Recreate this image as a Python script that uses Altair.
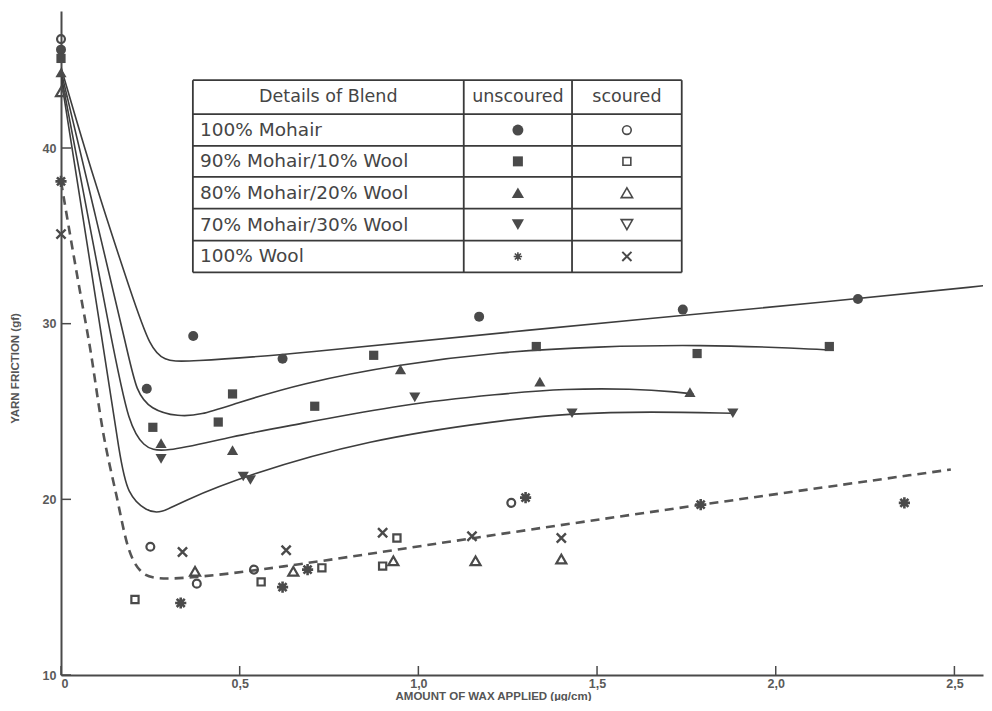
import altair as alt
import pandas as pd

# ---------------- data ----------------
x_ticks = [0, 0.5, 1.0, 1.5, 2.0, 2.5]
y_ticks = [10, 20, 30, 40]

# unscoured (filled) markers
mohair_u_x = [0.0, 0.24, 0.37, 0.62, 1.17, 1.74, 2.23, 2.6]
mohair_u_y = [45.6, 26.3, 29.3, 28.0, 30.4, 30.8, 31.4, 32.2]
blend90_u_x = [0.0, 0.257, 0.44, 0.48, 0.71, 0.875, 1.33, 1.78, 2.15]
blend90_u_y = [45.1, 24.1, 24.4, 26.0, 25.3, 28.2, 28.7, 28.3, 28.7]
blend80_u_x = [0.0, 0.28, 0.48, 0.95, 1.34, 1.76]
blend80_u_y = [44.3, 23.2, 22.8, 27.4, 26.7, 26.1]
blend70_u_x = [0.28, 0.51, 0.53, 0.99, 1.43, 1.88]
blend70_u_y = [22.3, 21.3, 21.1, 25.8, 24.9, 24.9]
wool_u_x = [0.0, 0.335, 0.62, 0.69, 1.30, 1.79, 2.36]
wool_u_y = [38.1, 14.1, 15.0, 16.0, 20.1, 19.7, 19.8]

# scoured (open) markers
mohair_s_x = [0.0, 0.25, 0.38, 0.54, 1.26]
mohair_s_y = [46.2, 17.3, 15.2, 16.0, 19.8]
blend90_s_x = [0.207, 0.56, 0.73, 0.90, 0.94]
blend90_s_y = [14.3, 15.3, 16.1, 16.2, 17.8]
blend80_s_x = [0.0, 0.375, 0.65, 0.93, 1.16, 1.40]
blend80_s_y = [43.2, 15.9, 15.9, 16.5, 16.5, 16.6]
blend70_s_x = []
blend70_s_y = []
wool_s_x = [0.0, 0.34, 0.63, 0.90, 1.15, 1.40]
wool_s_y = [35.1, 17.0, 17.1, 18.1, 17.9, 17.8]

# fitted curves
curve_mohair_x = [0.0, 0.09, 0.20, 0.25, 0.29, 0.34, 0.67, 1.23, 2.23, 2.6]
curve_mohair_y = [44.6, 38.3, 31.5, 28.6, 27.9, 27.8, 28.3, 29.5, 31.4, 32.2]
curve_90_x = [0.0, 0.098, 0.19, 0.21, 0.25, 0.33, 0.39, 0.48, 0.67, 0.95, 1.23, 1.5, 1.79, 2.07, 2.15]
curve_90_y = [44.4, 36.0, 28.1, 26.2, 25.1, 24.7, 24.8, 25.4, 26.6, 27.7, 28.4, 28.7, 28.8, 28.6, 28.5]
curve_80_x = [0.0, 0.15, 0.19, 0.23, 0.28, 0.48, 0.67, 0.95, 1.23, 1.41, 1.6, 1.73, 1.77]
curve_80_y = [44.2, 28.1, 24.3, 23.0, 22.6, 23.6, 24.3, 25.4, 26.0, 26.3, 26.3, 26.1, 26.0]
curve_70_x = [0.0, 0.123, 0.165, 0.185, 0.24, 0.28, 0.33, 0.52, 0.86, 1.23, 1.43, 1.65, 1.88]
curve_70_y = [44.0, 28.1, 22.4, 20.3, 19.3, 19.2, 19.8, 21.4, 23.4, 24.5, 24.9, 25.0, 24.9]
curve_wool_x = [0.0, 0.03, 0.062, 0.087, 0.118, 0.157, 0.185, 0.22, 0.27, 0.58, 1.15, 1.79, 2.49]
curve_wool_y = [38.1, 34.5, 30.8, 28.1, 23.4, 20.2, 17.1, 15.8, 15.3, 16.0, 17.8, 19.7, 21.7]

# legend table text
table_headers = ["Details of Blend", "unscoured", "scoured"]
blend_names = ["100% Mohair", "90% Mohair/10% Wool", "80% Mohair/20% Wool",
               "70% Mohair/30% Wool", "100% Wool"]

# ---------------- styling ----------------
INK = "#4a4a4a"
LINE = "#3d3d3d"
ASTERISK = "M0,-1L0,1M-1,0L1,0M-0.72,-0.72L0.72,0.72M-0.72,0.72L0.72,-0.72"
XSHAPE = "M-0.75,-0.75L0.75,0.75M-0.75,0.75L0.75,-0.75"

marker_shapes = ["circle", "square", "triangle-up", "triangle-down", ASTERISK,
                 "circle", "square", "triangle-up", "triangle-down", XSHAPE]
marker_filled = [True, True, True, True, False, False, False, False, False, False]
marker_sizes = [100, 85, 125, 125, 125, 62, 52, 100, 100, 150]
marker_widths = [1, 1, 1, 1, 2.6, 2.2, 2.2, 2.2, 2.2, 2.4]
legend_sizes = [120, 100, 150, 150, 70, 75, 62, 130, 130, 150]
legend_widths = [1, 1, 1, 1, 1.6, 1.6, 1.6, 1.6, 1.6, 2.0]

series_x = [mohair_u_x, blend90_u_x, blend80_u_x, blend70_u_x, wool_u_x,
            mohair_s_x, blend90_s_x, blend80_s_x, blend70_s_x, wool_s_x]
series_y = [mohair_u_y, blend90_u_y, blend80_u_y, blend70_u_y, wool_u_y,
            mohair_s_y, blend90_s_y, blend80_s_y, blend70_s_y, wool_s_y]

curve_rows = []
for key, xs, ys in [("mohair", curve_mohair_x, curve_mohair_y),
                    ("b90", curve_90_x, curve_90_y),
                    ("b80", curve_80_x, curve_80_y),
                    ("b70", curve_70_x, curve_70_y)]:
    for i, (x, y) in enumerate(zip(xs, ys)):
        curve_rows.append({"key": key, "i": i, "x": x, "y": y})
curves_df = pd.DataFrame(curve_rows)
wool_df = pd.DataFrame({"i": range(len(curve_wool_x)), "x": curve_wool_x, "y": curve_wool_y})

# table geometry (data coordinates)
T_LEFT, T_C1, T_C2, T_RIGHT = 0.369, 1.127, 1.43, 1.737
T_ROWS = [43.86, 41.93, 40.12, 38.36, 36.55, 34.73, 32.92]
col_centers = [(T_LEFT + T_C1) / 2, (T_C1 + T_C2) / 2, (T_C2 + T_RIGHT) / 2]
row_centers = [(T_ROWS[i] + T_ROWS[i + 1]) / 2 for i in range(len(T_ROWS) - 1)]

grid_rows = [{"x": T_LEFT, "x2": T_RIGHT, "y": yy, "y2": yy} for yy in T_ROWS]
grid_rows += [{"x": xx, "x2": xx, "y": T_ROWS[0], "y2": T_ROWS[-1]}
              for xx in [T_LEFT, T_C1, T_C2, T_RIGHT]]
grid_df = pd.DataFrame(grid_rows)

header_df = pd.DataFrame({"x": col_centers, "y": [row_centers[0]] * 3, "t": table_headers})
label_df = pd.DataFrame({"x": [T_LEFT + 0.02] * len(blend_names),
                         "y": row_centers[1:], "t": blend_names})

# ---------------- scales / axes ----------------
W, H = 922, 664
xs_ = alt.Scale(domain=[0, 2.58], nice=False, zero=False)
ys_ = alt.Scale(domain=[10, 47.8], nice=False, zero=False)
X_AX = alt.Axis(values=x_ticks, ticks=False, grid=False, domainColor=INK, domainWidth=2,
                labelFont="Liberation Sans", labelFontWeight="bold", labelFontSize=12.5,
                labelColor="#5a5a5a", labelPadding=2,
                labelExpr="datum.value == 0 ? '0' : replace(format(datum.value, '.1f'), '.', ',')",
                title="AMOUNT OF WAX APPLIED (µg/cm)", titleFont="Liberation Sans",
                titleFontSize=11.5, titleFontWeight="bold", titleColor="#555555",
                titleX=432, titleY=21, titleBaseline="middle")
Y_AX = alt.Axis(values=y_ticks, ticks=False, grid=False, domainColor=INK, domainWidth=2,
                labelFont="Liberation Sans", labelFontWeight="bold", labelFontSize=12.5,
                labelColor="#5a5a5a", labelPadding=5,
                title="YARN FRICTION (gf)", titleFont="Liberation Sans",
                titleFontSize=11.5, titleFontWeight="bold", titleColor="#555555",
                titleX=-46, titleY=357, titleAngle=-90, titleAlign="center",
                titleBaseline="middle")

X = lambda: alt.X("x:Q", scale=xs_, axis=X_AX)
Y = lambda: alt.Y("y:Q", scale=ys_, axis=Y_AX)

curves = alt.Chart(curves_df).mark_line(interpolate="basis", color=LINE, strokeWidth=1.6, clip=True).encode(
    x=X(), y=Y(), detail="key:N", order="i:Q")
wool_curve = alt.Chart(wool_df).mark_line(interpolate="basis", color="#555555", strokeWidth=2.6,
                                          strokeDash=[9, 6], clip=True).encode(
    x=X(), y=Y(), order="i:Q")

layers = [curves, wool_curve]

ytick_df = pd.DataFrame({"v": y_ticks})
xtick_df = pd.DataFrame({"v": x_ticks})
layers.append(alt.Chart(ytick_df).mark_rule(color=INK, strokeWidth=1.5).encode(
    y=alt.Y("v:Q", scale=ys_, axis=Y_AX), x=alt.value(0), x2=alt.value(10)))
layers.append(alt.Chart(xtick_df).mark_rule(color=INK, strokeWidth=1.5).encode(
    x=alt.X("v:Q", scale=xs_, axis=X_AX), y=alt.value(H), y2=alt.value(H - 9)))

# data markers
for shp, fil, sz, sw, xs, ys in zip(marker_shapes, marker_filled, marker_sizes, marker_widths,
                                    series_x, series_y):
    if not xs:
        continue
    df = pd.DataFrame({"x": xs, "y": ys})
    layers.append(alt.Chart(df).mark_point(shape=shp, filled=fil, size=sz, strokeWidth=sw,
                                           color=INK, opacity=1).encode(x=X(), y=Y()))

# legend table
layers.append(alt.Chart(grid_df).mark_rule(color="#3a3a3a", strokeWidth=1.8).encode(
    x=X(), x2="x2:Q", y=Y(), y2="y2:Q"))
layers.append(alt.Chart(header_df).mark_text(font="DejaVu Sans", fontSize=17.5, color="#454545",
                                             align="center", baseline="middle").encode(
    x=X(), y=Y(), text="t:N"))
layers.append(alt.Chart(label_df).mark_text(font="DejaVu Sans", fontSize=18.5, color="#454545",
                                            align="left", baseline="middle").encode(
    x=X(), y=Y(), text="t:N"))
for k in range(10):
    row = k % 5
    col = 1 if k < 5 else 2
    df = pd.DataFrame({"x": [col_centers[col]], "y": [row_centers[row + 1]]})
    layers.append(alt.Chart(df).mark_point(shape=marker_shapes[k], filled=marker_filled[k],
                                           size=legend_sizes[k], strokeWidth=legend_widths[k],
                                           color=INK, opacity=1).encode(x=X(), y=Y()))

chart = alt.layer(*layers).properties(
    width=W, height=H,
    padding={"left": 53, "top": 3, "right": 1, "bottom": 26},
    autosize=alt.AutoSizeParams(type="none"),
    background="white",
).configure_view(stroke=None)

chart.save("out.html", embed_options={"renderer": "svg", "actions": False})
